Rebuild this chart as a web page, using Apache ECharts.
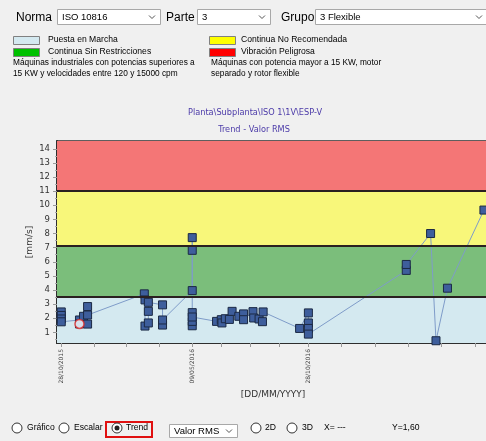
<!DOCTYPE html>
<html>
<head>
<meta charset="utf-8">
<script src="https://cdn.jsdelivr.net/npm/echarts@6/dist/echarts.min.js"></script>
<style>
html,body{margin:0;padding:0;background:#f0f0f0;}
#chart{width:486px;height:441px;}
</style>
</head>
<body>
<div id="chart"></div>
<script>
// ---- data ----
const dates = [
 '2015-10-28','2015-10-28','2015-10-28','2015-10-28',
 '2015-11-24','2015-11-24','2015-11-30',
 '2015-12-06','2015-12-06','2015-12-06',
 '2016-02-28','2016-02-29','2016-02-29',
 '2016-03-05','2016-03-05','2016-03-05',
 '2016-03-26','2016-03-26','2016-03-26',
 '2016-05-09','2016-05-09','2016-05-09','2016-05-09','2016-05-09','2016-05-09','2016-05-09',
 '2016-06-14','2016-06-21','2016-06-22','2016-06-27','2016-07-03','2016-07-07','2016-07-17',
 '2016-07-24','2016-07-24','2016-08-07','2016-08-08','2016-08-16','2016-08-21','2016-08-22',
 '2016-10-15','2016-10-28','2016-10-28','2016-10-28','2016-10-28',
 '2017-03-22','2017-03-22','2017-04-27','2017-05-05','2017-05-22','2017-07-15'
];
const rmsValues = [
 2.45,2.2,1.95,1.75,
 1.88,1.6,2.14,
 2.83,1.59,2.23,
 3.73,3.3,1.45,
 1.67,2.49,3.13,
 2.95,1.52,1.88,
 3.96,6.81,7.71,2.40,1.47,1.78,2.09,
 1.78,1.9,1.67,1.97,1.92,2.49,2.14,
 2.31,1.9,2.47,2.02,1.95,1.76,2.45,
 1.28,2.38,1.67,1.28,0.88,
 5.39,5.81,8.0,0.41,4.13,9.66
];
const selectedDate = '2015-11-24';
const selectedValue = 1.6;
const zoneLimits = [3.5, 7.1, 11];           // ISO 10816-3, grupo 3 flexible
const zoneNames = ['Puesta en Marcha','Continua Sin Restricciones','Continua No Recomendada','Vibración Peligrosa'];
const zoneColors = ['#d4e9f0','#7bbe7b','#f8f77a','#f47676'];
const yTickValues = [1,2,3,4,5,6,7,8,9,10,11,12,13,14];
const xLabelDates = ['2015-10-28','2016-05-09','2016-10-28'];

// ---- helpers ----
const DAY = 86400000;
function ts(s){const p=s.split('-');return Date.UTC(+p[0],+p[1]-1,+p[2]);}
function fmt(v){const d=new Date(v);const z=n=>(n<10?'0':'')+n;return z(d.getUTCDate())+'/'+z(d.getUTCMonth()+1)+'/'+d.getUTCFullYear();}

const yMin = 0.25, yMax = 14.55;
const t0 = ts(xLabelDates[0]);
const xMin = t0 - 6.3*DAY;
const gridW = 463;
const xMax = xMin + gridW/0.6752*DAY;

const xLabelVals = xLabelDates.map(ts);
const xTickVals = [];
for(let i=0;i<xLabelVals.length-1;i++){
  const a=xLabelVals[i], b=xLabelVals[i+1];
  for(let k=0;k<4;k++) xTickVals.push(a+(b-a)*k/4);
}
xTickVals.push(xLabelVals[xLabelVals.length-1]);
for(let k=1;k<8;k++) xTickVals.push(xLabelVals[xLabelVals.length-1]+k*49.3*DAY);
const yMinorVals=[]; for(let v=0.5; v<14.5; v+=0.5){ if(Math.abs(v-Math.round(v))>0.01) yMinorVals.push(v); }

const seriesData = dates.map((d,i)=>[ts(d), rmsValues[i]]);
const bands = [[yMin,zoneLimits[0]],[zoneLimits[0],zoneLimits[1]],[zoneLimits[1],zoneLimits[2]],[zoneLimits[2],yMax]];

// ---- UI (form controls) as graphic ----
const UI = 'Liberation Sans, Arial, sans-serif';
function txt(x,y,s,size,color,align){return {type:'text',silent:true,style:{x:x,y:y,text:s,fill:color||'#000',font:size+'px '+UI,textAlign:align||'left',align:align||'left',textVerticalAlign:'middle',verticalAlign:'middle'}};}
function combo(x,y,w,h,s){
  return [
    {type:'rect',shape:{x:x+0.5,y:y+0.5,width:w,height:h},style:{fill:'#fff',stroke:'#a8a8a8',lineWidth:1}},
    txt(x+5,y+h/2+1,s,9.5,'#000'),
    {type:'polyline',shape:{points:[[x+w-11,y+h/2-1],[x+w-8,y+h/2+2],[x+w-5,y+h/2-1]]},style:{stroke:'#555',lineWidth:1,fill:null}}
  ];
}
function radio(cx,cy,checked){
  const r=[{type:'circle',shape:{cx:cx,cy:cy,r:5},style:{fill:'#fff',stroke:'#333',lineWidth:1}}];
  if(checked) r.push({type:'circle',shape:{cx:cx,cy:cy,r:2.5},style:{fill:'#222'}});
  return r;
}
const g = [];
g.push(txt(16,18,'Norma',12,'#000'));
g.push(...combo(57,9,103,15,'ISO 10816'));
g.push(txt(166,18,'Parte',12,'#000'));
g.push(...combo(197,9,73,15,'3'));
g.push(txt(281,18,'Grupo',12,'#000'));
g.push(...combo(315,9,172,15,'3 Flexible'));
const sw = [[13,36],[13,48],[209,36],[209,48]];
const swText = [[48,40],[48,52],[241,40],[241,52]];
const swColors = [zoneColors[0],'#00c000','#ffff00','#ff0000'];
for(let i=0;i<4;i++){
  g.push({type:'rect',shape:{x:sw[i][0]+0.5,y:sw[i][1]+0.5,width:26,height:8},style:{fill:swColors[i],stroke:'#808080',lineWidth:1}});
  g.push(txt(swText[i][0],swText[i][1],zoneNames[i],8.6,'#000'));
}
g.push(txt(13,63,'Máquinas industriales con potencias superiores a',8.3,'#000'));
g.push(txt(13,74,'15 KW y velocidades entre 120 y 15000 cpm',8.3,'#000'));
g.push(txt(211,63,'Máquinas con potencia mayor a 15 KW, motor',8.3,'#000'));
g.push(txt(211,74,'separado y rotor flexible',8.3,'#000'));
const CF = 'DejaVu Sans, Verdana, sans-serif';
function ctxt(x,y,s,size,color){return {type:'text',silent:true,style:{x:x,y:y,text:s,fill:color,font:size+'px '+CF,textAlign:'center',align:'center',textVerticalAlign:'middle',verticalAlign:'middle'}};}
g.push(ctxt(255,113,'Planta\\Subplanta\\ISO 1\\1V\\ESP-V',8.2,'#4b3aa8'));
g.push(ctxt(254,130,'Trend - Valor RMS',8.2,'#4b3aa8'));
g.push({type:'text',silent:true,rotation:Math.PI/2,x:30,y:242,style:{x:0,y:0,text:'[mm/s]',fill:'#333',font:'9px '+CF,textAlign:'center',align:'center',textVerticalAlign:'middle',verticalAlign:'middle'}});
g.push(ctxt(273,395,'[DD/MM/YYYY]',9,'#333'));
g.push(...radio(17,428,false)); g.push(txt(27,428,'Gráfico',8.6,'#000'));
g.push(...radio(64,428,false)); g.push(txt(74,428,'Escalar',8.6,'#000'));
g.push({type:'rect',shape:{x:106,y:422,width:46,height:15},style:{fill:null,stroke:'#e01010',lineWidth:2}});
g.push(...radio(117,428,true)); g.push(txt(126,428,'Trend',8.6,'#000'));
g.push(...combo(169,424,68,13,'Valor RMS'));
g.push(...radio(256,428,false)); g.push(txt(265,428,'2D',8.6,'#000'));
g.push(...radio(292,428,false)); g.push(txt(302,428,'3D',8.6,'#000'));
g.push(txt(324,428,'X= ---',8.6,'#000'));
g.push(txt(392,428,'Y=1,60',8.6,'#000'));

const chart = echarts.init(document.getElementById('chart'), null, {renderer:'canvas'});
chart.setOption({
  animation:false,
  backgroundColor:'#f0f0f0',
  grid:{left:57, top:141, width:gridW, height:202, outerBoundsMode:'none', containLabel:false, show:true, backgroundColor:'transparent', borderColor:'#2e2e2e', borderWidth:1.5},
  xAxis:{
    type:'value', min:xMin, max:xMax,
    axisLine:{show:true, lineStyle:{color:'#2e2e2e', width:2}},
    splitLine:{show:false},
    axisTick:{show:true, customValues:xTickVals, length:4, lineStyle:{color:'#999'}},
    axisLabel:{customValues:xLabelVals, formatter:fmt, rotate:90, margin:6, fontSize:6, fontFamily:CF, color:'#444'}
  },
  yAxis:[{
    type:'value', min:yMin, max:yMax,
    axisLine:{show:true, lineStyle:{color:'#2e2e2e', width:2}},
    splitLine:{show:false},
    axisTick:{show:true, customValues:yTickValues, length:4, lineStyle:{color:'#999'}},
    axisLabel:{customValues:yTickValues, margin:7, fontSize:8.5, fontFamily:CF, color:'#333'}
  },{
    type:'value', min:yMin, max:yMax, position:'left',
    axisLine:{show:false}, splitLine:{show:false}, axisLabel:{show:false},
    axisTick:{show:true, customValues:yMinorVals, length:2, lineStyle:{color:'#aaa'}}
  }],
  graphic:g,
  series:[{
    type:'line', data:seriesData, yAxisIndex:0,
    symbol:'rect', symbolSize:8, showSymbol:true,
    itemStyle:{color:'#3e5e9c', borderColor:'#1b2944', borderWidth:1},
    lineStyle:{color:'#7f9cc9', width:1},
    markArea:{silent:true, data:bands.map((b,i)=>[{yAxis:b[0], itemStyle:{color:zoneColors[i]}},{yAxis:b[1]}])},
    markLine:{silent:true, symbol:'none', label:{show:false}, lineStyle:{color:'#2a2020', width:2, type:'solid'}, data:zoneLimits.map(v=>({yAxis:v}))},
    z:3
  },{
    type:'scatter', data:[[ts(selectedDate), selectedValue]], yAxisIndex:0,
    symbol:'circle', symbolSize:9,
    itemStyle:{color:'#ffffff', borderColor:'#e03030', borderWidth:1.5}, z:5
  }]
});
</script>
</body>
</html>
